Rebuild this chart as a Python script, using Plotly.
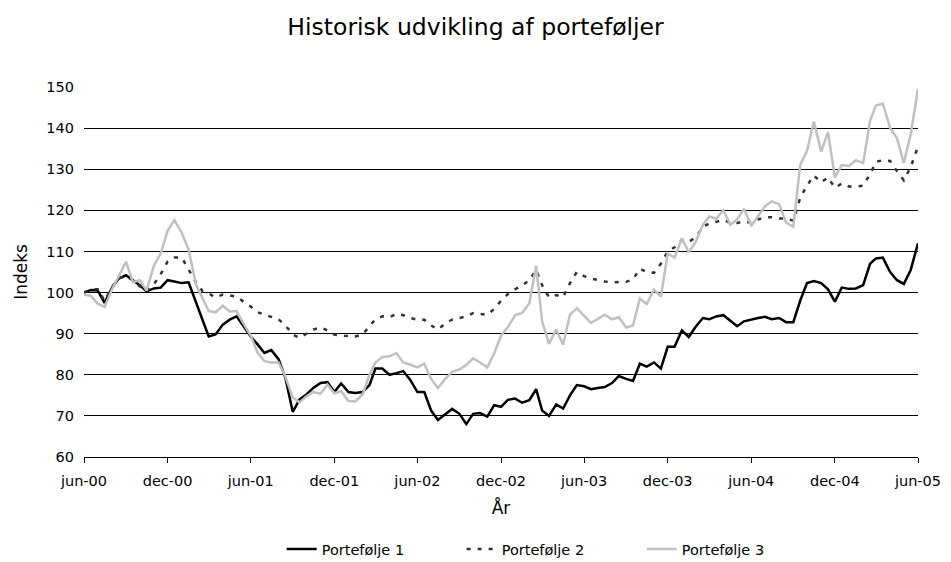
import datetime as dt
import plotly.graph_objects as go

# Semi-monthly observation dates, jun-00 .. jun-05
dates = []
for i in range(121):
    m = 5 + i // 2
    dates.append(dt.date(2000 + m // 12, m % 12 + 1, 1 if i % 2 == 0 else 16))

portefolje_1 = [
    100.0, 100.6, 100.5, 97.5, 101.1, 103.4, 104.2, 103.1, 101.8, 100.3,
    101.0, 101.2, 103.0, 102.7, 102.3, 102.5, 97.5, 93.2, 89.3, 89.8,
    92.2, 93.4, 94.2, 91.9, 89.3, 87.4, 85.3, 86.0, 83.8, 79.2,
    71.0, 74.0, 75.2, 76.8, 78.0, 78.2, 75.8, 77.9, 75.8, 75.6,
    75.8, 77.5, 81.5, 81.5, 80.0, 80.4, 80.9, 78.8, 75.8, 75.8,
    71.3, 69.0, 70.5, 71.7, 70.5, 68.0, 70.5, 70.7, 69.8, 72.6,
    72.2, 73.9, 74.2, 73.2, 73.8, 76.5, 71.3, 70.0, 72.8, 71.8,
    75.0, 77.5, 77.2, 76.5, 76.8, 77.0, 78.0, 79.7, 79.0, 78.5,
    82.7, 82.0, 83.0, 81.5, 86.8, 86.8, 90.8, 89.2, 91.8, 93.8,
    93.5, 94.2, 94.5, 93.2, 91.8, 93.0, 93.5, 93.8, 94.1, 93.5,
    93.8, 92.8, 92.8, 98.0, 102.3, 102.8, 102.3, 100.8, 97.8, 101.2,
    100.9, 101.0, 101.8, 107.0, 108.3, 108.5, 105.0, 103.0, 102.1, 105.5,
    112.0,
]

portefolje_2 = [
    100.0, 100.8, 100.8, 98.0, 101.3, 103.5, 104.0, 103.0, 101.5, 100.3,
    102.0, 104.5, 107.5, 108.5, 108.5, 105.5, 102.5, 100.3, 99.8, 98.8,
    99.5, 99.3, 99.0, 97.8, 96.6, 95.2, 94.7, 94.1, 93.5, 92.0,
    89.8, 89.0, 90.0, 91.0, 91.5, 90.8, 89.8, 89.5, 89.4, 89.3,
    89.8, 91.8, 93.5, 94.2, 94.0, 94.8, 94.5, 93.8, 93.4, 93.4,
    92.0, 91.0, 92.5, 93.4, 93.8, 94.2, 95.0, 94.8, 94.6, 96.0,
    98.0, 99.6, 100.8, 101.7, 103.0, 105.5, 101.8, 98.9, 99.4, 98.9,
    102.3, 105.0, 104.0, 103.4, 103.0, 102.7, 102.5, 102.6, 102.6, 103.2,
    105.8, 105.0, 104.8, 107.0, 110.0, 111.0, 112.8, 112.3, 113.5, 116.0,
    116.8, 117.2, 117.7, 117.0, 116.9, 117.3, 117.0, 117.8, 118.3, 118.3,
    118.0, 118.0, 117.5, 123.0, 126.0, 128.5, 126.8, 128.0, 125.5, 126.5,
    125.8, 125.8, 126.0, 128.8, 131.8, 132.2, 132.0, 129.5, 127.3, 130.5,
    135.5,
]

portefolje_3 = [
    99.5, 99.2, 97.3, 96.5, 100.7, 104.0, 107.5, 102.5, 103.0, 100.5,
    106.5, 109.5, 115.0, 117.6, 114.5, 110.5, 102.0, 98.5, 95.5, 95.2,
    96.8, 95.4, 95.5, 92.5, 89.5, 85.4, 83.3, 83.0, 83.0, 79.5,
    74.5, 73.3, 74.8, 75.8, 75.4, 77.6, 75.5, 76.0, 73.6, 73.5,
    75.2, 80.0, 83.0, 84.3, 84.5, 85.3, 83.0, 82.5, 81.8, 82.7,
    79.0, 76.8, 79.0, 80.7, 81.3, 82.4, 84.0, 83.0, 81.8, 85.2,
    89.5, 91.6, 94.5, 95.0, 97.4, 106.5, 93.0, 87.5, 91.0, 87.3,
    94.6, 96.2, 94.2, 92.6, 93.6, 94.6, 93.5, 94.0, 91.5, 92.0,
    98.5, 97.2, 100.7, 99.0, 109.5, 108.5, 113.2, 109.8, 112.5, 116.5,
    118.5, 118.0, 120.0, 116.5, 117.8, 120.4, 116.2, 118.5, 121.0, 122.2,
    121.5, 117.0, 116.0, 131.0, 134.5, 141.6, 134.3, 139.0, 128.0, 131.0,
    130.8, 132.2, 131.5, 141.8, 145.5, 146.0, 140.0, 137.5, 131.5, 138.5,
    149.5,
]

tick_dates = [dt.date(2000 + (5 + 6 * k) // 12, (5 + 6 * k) % 12 + 1, 1) for k in range(11)]
tick_labels = ["jun-00", "dec-00", "jun-01", "dec-01", "jun-02", "dec-02",
               "jun-03", "dec-03", "jun-04", "dec-04", "jun-05"]

FONT = "DejaVu Sans"

fig = go.Figure()
fig.add_trace(go.Scatter(x=dates, y=portefolje_1, mode="lines", name="Portefølje 1",
                         line=dict(color="#000000", width=2.5)))
fig.add_trace(go.Scatter(x=dates, y=portefolje_2, mode="lines", name="Portefølje 2",
                         line=dict(color="#333333", width=2.5, dash="4px,7px")))
fig.add_trace(go.Scatter(x=dates, y=portefolje_3, mode="lines", name="Portefølje 3",
                         line=dict(color="#c0c0c0", width=2.5)))

# page body has an 8px margin, so the figure is 8px smaller than the window
fig.update_layout(
    width=943, height=554,
    margin=dict(l=76, r=33, t=79, b=105, autoexpand=False),
    paper_bgcolor="white", plot_bgcolor="white",
    font=dict(family=FONT, size=14.5, color="black"),
    title=dict(text="Historisk udvikling af porteføljer", x=0.4958, xanchor="center",
               xref="container",
               y=1 - 19 / 554, yanchor="middle", font=dict(size=23.5, family=FONT)),
    legend=dict(orientation="h", x=0.237, xanchor="left", y=-0.249, yanchor="middle",
                font=dict(size=14.5), entrywidth=135, bgcolor="rgba(0,0,0,0)"),
    showlegend=True,
)
fig.update_xaxes(
    range=[dates[0], dates[-1]], tickvals=tick_dates, ticktext=tick_labels,
    showgrid=False, zeroline=False, showline=True, linecolor="black", linewidth=1,
    ticks="outside", ticklen=5, tickcolor="black", ticklabelstandoff=6,
    title=dict(text="År", standoff=13),
)
fig.update_yaxes(
    range=[60, 150], dtick=10, showgrid=True, gridcolor="black", gridwidth=1,
    zeroline=False, showline=False, ticks="", ticklabelstandoff=9,
    title=dict(text="Indeks", standoff=14),
)

fig.write_html("out.html")
